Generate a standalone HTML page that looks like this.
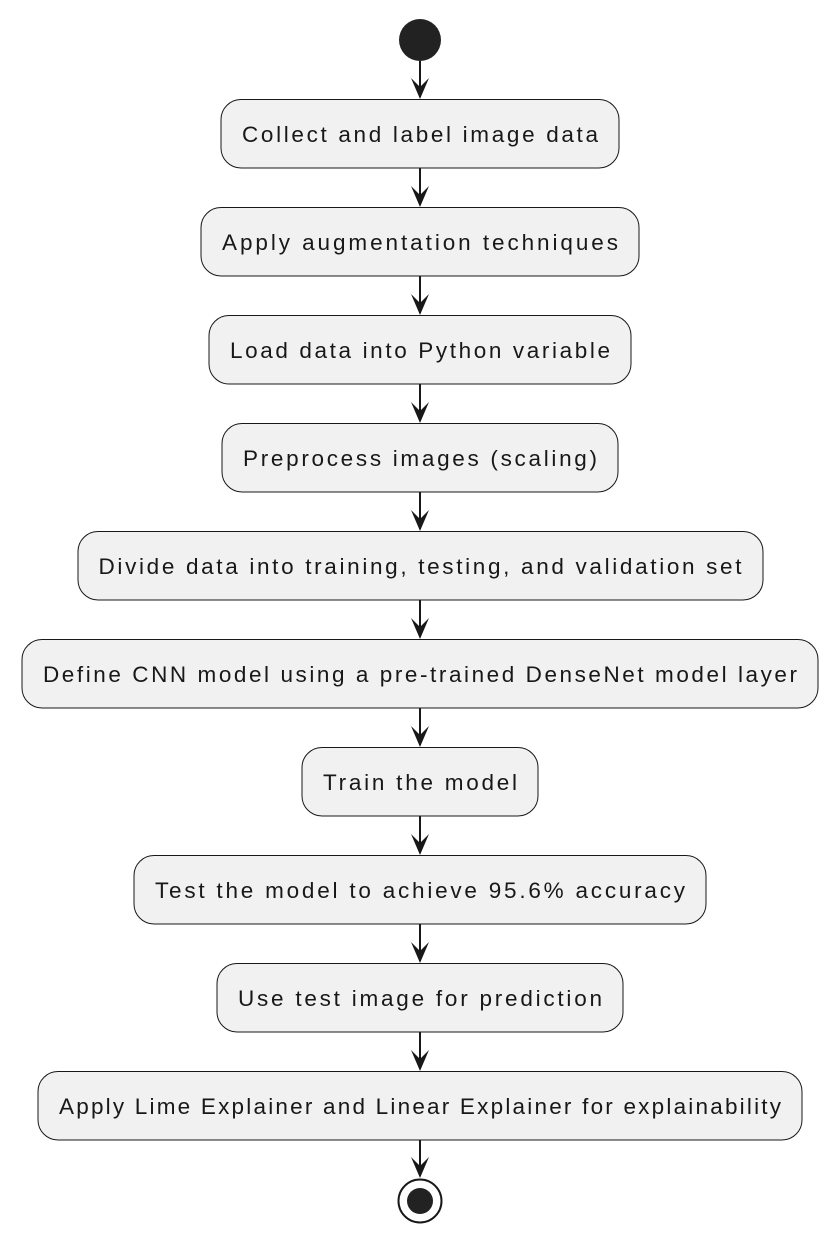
<!DOCTYPE html>
<html><head><meta charset="utf-8"><style>html,body{margin:0;padding:0;background:#fff}svg{display:block}</style></head><body>
<svg width="840" height="1244" viewBox="0 0 840 1244" xmlns="http://www.w3.org/2000/svg" font-family="Liberation Sans, sans-serif" font-size="22.5" fill="#181818">
<circle cx="420" cy="40" r="21" fill="#222"/>
<g stroke="#181818" stroke-width="2">
<line x1="420" y1="61" x2="420" y2="97"/>
<line x1="420" y1="168" x2="420" y2="205"/>
<line x1="420" y1="276" x2="420" y2="313"/>
<line x1="420" y1="384" x2="420" y2="421"/>
<line x1="420" y1="492" x2="420" y2="529"/>
<line x1="420" y1="600" x2="420" y2="637"/>
<line x1="420" y1="708" x2="420" y2="745"/>
<line x1="420" y1="816" x2="420" y2="853"/>
<line x1="420" y1="924" x2="420" y2="961"/>
<line x1="420" y1="1032" x2="420" y2="1069"/>
<line x1="420" y1="1140" x2="420" y2="1176"/>
</g>
<g fill="#181818">
<polygon points="420,99 411,78 420,87 429,78"/>
<polygon points="420,207 411,186 420,195 429,186"/>
<polygon points="420,315 411,294 420,303 429,294"/>
<polygon points="420,423 411,402 420,411 429,402"/>
<polygon points="420,531 411,510 420,519 429,510"/>
<polygon points="420,639 411,618 420,627 429,618"/>
<polygon points="420,747 411,726 420,735 429,726"/>
<polygon points="420,855 411,834 420,843 429,834"/>
<polygon points="420,963 411,942 420,951 429,942"/>
<polygon points="420,1071 411,1050 420,1059 429,1050"/>
<polygon points="420,1178 411,1157 420,1166 429,1157"/>
</g>
<g fill="#f1f1f1" stroke="#181818" stroke-width="1">
<rect x="221" y="99.5" width="398" height="68.5" rx="20"/>
<rect x="201" y="207.5" width="438" height="68.5" rx="20"/>
<rect x="209" y="315.5" width="422" height="68.5" rx="20"/>
<rect x="222" y="423.5" width="396" height="68.5" rx="20"/>
<rect x="78" y="531.5" width="685" height="68.5" rx="20"/>
<rect x="22" y="639.5" width="796" height="68.5" rx="20"/>
<rect x="302" y="747.5" width="236" height="68.5" rx="20"/>
<rect x="134" y="855.5" width="572" height="68.5" rx="20"/>
<rect x="217" y="963.5" width="406" height="68.5" rx="20"/>
<rect x="38" y="1071.5" width="764" height="68.5" rx="20"/>
</g>
<g text-anchor="middle">
<text x="420" y="142" textLength="356" lengthAdjust="spacing">Collect and label image data</text>
<text x="420" y="250" textLength="396" lengthAdjust="spacing">Apply augmentation techniques</text>
<text x="420" y="358" textLength="380" lengthAdjust="spacing">Load data into Python variable</text>
<text x="420" y="466" textLength="354" lengthAdjust="spacing">Preprocess images (scaling)</text>
<text x="420" y="574" textLength="643" lengthAdjust="spacing">Divide data into training, testing, and validation set</text>
<text x="420" y="682" textLength="754" lengthAdjust="spacing">Define CNN model using a pre-trained DenseNet model layer</text>
<text x="420" y="790" textLength="194" lengthAdjust="spacing">Train the model</text>
<text x="420" y="898" textLength="530" lengthAdjust="spacing">Test the model to achieve 95.6% accuracy</text>
<text x="420" y="1006" textLength="364" lengthAdjust="spacing">Use test image for prediction</text>
<text x="420" y="1114" textLength="722" lengthAdjust="spacing">Apply Lime Explainer and Linear Explainer for explainability</text>
</g>
<circle cx="420" cy="1201" r="21.5" fill="#fff" stroke="#181818" stroke-width="2"/>
<circle cx="420" cy="1201" r="13" fill="#222"/>
</svg>
</body></html>
